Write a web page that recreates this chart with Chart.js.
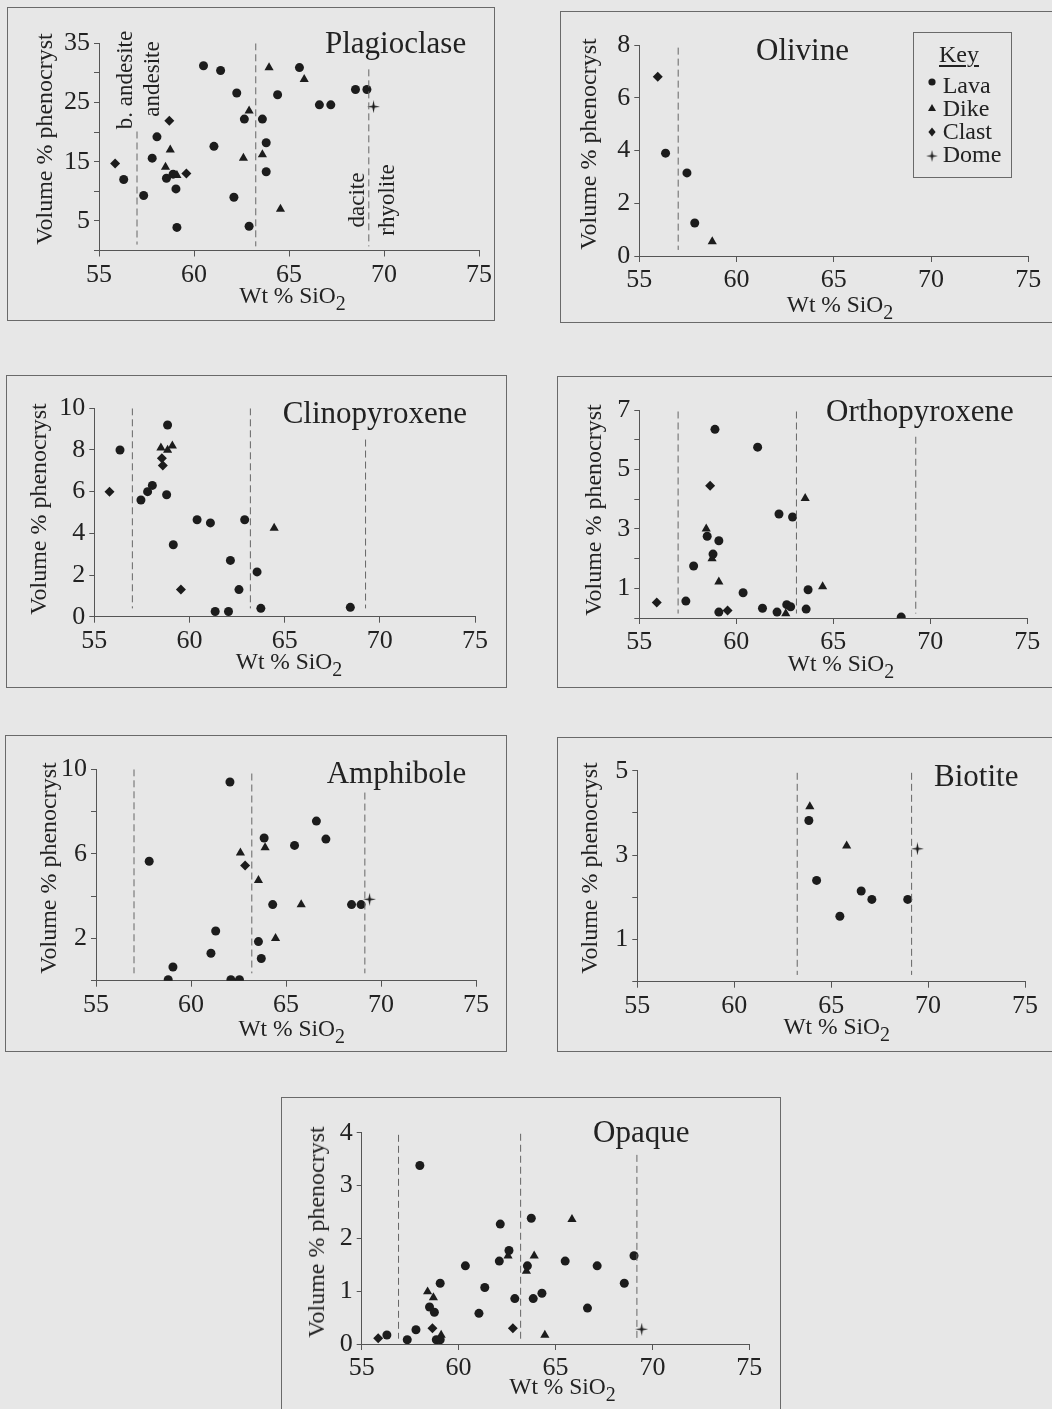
<!DOCTYPE html>
<html>
<head>
<meta charset="utf-8">
<script src="https://cdn.jsdelivr.net/npm/chart.js@4.4.1/dist/chart.umd.min.js"></script>
<style>
  body { margin: 0; width: 1052px; height: 1409px; background: #e7e7e7; position: relative; overflow: hidden;
         font-family: 'Liberation Serif', 'DejaVu Serif', serif; color: #222; }
  .box { position: absolute; border: 1px solid #6a6a6a; box-sizing: border-box; }
  canvas { position: absolute; }
  .txt { position: absolute; line-height: 1; white-space: nowrap; }
  .txt sub { font-size: 0.85em; vertical-align: -0.35em; line-height: 0; }
</style>
</head>
<body>
<script>
// shared x axis
const xTicks = [55, 60, 65, 70, 75];

// Plagioclase
const plagLava = [[56.3,12.0],[57.35,9.3],[57.8,15.6],[58.05,19.2],[58.55,12.2],[58.9,12.9],[59.05,10.4],[59.1,3.9],
  [60.5,31.2],[61.05,17.6],[61.4,30.4],[62.1,9.0],[62.25,26.6],[62.65,22.2],[62.9,4.1],[63.6,22.2],[63.8,18.2],
  [63.8,13.3],[64.4,26.3],[65.55,30.9],[66.6,24.6],[67.2,24.6],[68.5,27.2],[69.1,27.2]];
const plagDike = [[58.5,14.1],[58.75,17.0],[59.1,12.7],[62.6,15.6],[62.9,23.6],[63.6,16.2],[63.95,30.9],[64.55,7.0],[65.8,28.9]];
const plagClast = [[55.85,14.7],[58.7,21.9],[59.6,13.0]];
const plagDome = [[69.45,24.3]];
const plagYLabels = [5, 15, 25, 35];

// Olivine
const oliLava = [[56.35,3.9],[57.45,3.15],[57.85,1.25]];
const oliDike = [[58.75,0.55]];
const oliClast = [[55.95,6.8]];
const oliYLabels = [0, 2, 4, 6, 8];

// Clinopyroxene
const cpxLava = [[56.35,8.0],[57.45,5.6],[57.8,6.0],[58.05,6.3],[58.85,9.2],[58.8,5.85],[59.15,3.45],[60.4,4.65],
  [61.1,4.5],[62.9,4.65],[62.15,2.7],[63.55,2.15],[62.6,1.3],[61.35,0.25],[62.05,0.25],[63.75,0.4],[68.45,0.45]];
const cpxDike = [[58.5,8.1],[58.85,8.0],[59.1,8.2],[64.45,4.25]];
const cpxClast = [[55.8,6.0],[58.55,7.6],[58.6,7.25],[59.55,1.3]];
const cpxYLabels = [0, 2, 4, 6, 8, 10];

// Orthopyroxene
const opxLava = [[57.4,0.57],[57.8,1.75],[58.5,2.75],[58.8,2.15],[58.9,6.35],[59.1,2.6],[59.1,0.2],[60.35,0.85],
  [61.1,5.75],[61.35,0.33],[62.2,3.5],[62.9,3.4],[62.1,0.2],[62.6,0.45],[62.8,0.38],[63.6,0.3],[63.7,0.95],[68.5,0.03]];
const opxDike = [[58.45,3.0],[58.75,2.0],[59.1,1.22],[62.55,0.15],[63.55,4.03],[64.45,1.06]];
const opxClast = [[55.9,0.52],[58.65,4.45],[59.55,0.25]];
const opxYLabels = [1, 3, 5, 7];

// Amphibole
const amphLava = [[57.8,5.65],[58.8,0.05],[59.05,0.65],[61.05,1.3],[61.3,2.35],[62.05,9.4],[62.1,0.05],[62.55,0.05],
  [63.55,1.85],[63.7,1.05],[63.85,6.75],[64.3,3.6],[65.45,6.4],[66.6,7.55],[67.1,6.7],[68.45,3.6],[68.95,3.6]];
const amphDike = [[62.6,6.05],[63.55,4.75],[63.9,6.3],[64.45,2.0],[65.8,3.6]];
const amphClast = [[62.85,5.45]];
const amphDome = [[69.4,3.85]];
const amphYLabels = [2, 6, 10];

// Biotite
const bioLava = [[63.85,3.82],[64.25,2.4],[65.45,1.55],[66.55,2.15],[67.1,1.95],[68.95,1.95]];
const bioDike = [[63.9,4.15],[65.8,3.22]];
const bioDome = [[69.45,3.15]];
const bioYLabels = [1, 3, 5];

// Opaque
const opqLava = [[56.3,0.17],[57.35,0.08],[57.8,0.27],[58.0,3.38],[58.5,0.7],[58.75,0.6],[58.85,0.08],[59.05,0.08],
  [59.05,1.15],[60.35,1.48],[61.05,0.58],[61.35,1.07],[62.15,2.27],[62.1,1.57],[62.6,1.77],[62.9,0.86],[63.55,1.48],
  [63.75,2.38],[63.85,0.86],[64.3,0.96],[65.5,1.57],[66.65,0.68],[67.15,1.48],[68.55,1.15],[69.05,1.67]];
const opqDike = [[58.4,0.99],[58.7,0.88],[59.1,0.17],[62.55,1.67],[63.5,1.38],[63.9,1.67],[64.45,0.17],[65.85,2.36]];
const opqClast = [[55.85,0.11],[58.65,0.3],[62.8,0.3]];
const opqDome = [[69.45,0.28]];
const opqYLabels = [0, 1, 2, 3, 4];

// dashed rock-type boundaries: [SiO2, top, bottom]
const plagBounds = [[57, 20.1, 1], [63.25, 35, 0.7], [69.2, 30.6, 0.7]];
const oliBounds = [[57, 7.9, 0.23]];
const cpxBounds = [[57, 10, 0.4], [63.2, 10, 0.4], [69.25, 8.5, 0.4]];
const opxBounds = [[57, 6.95, 0.15], [63.1, 6.95, 0.15], [69.25, 6.1, 0.15]];
const amphBounds = [[57, 10, 0.35], [63.2, 9.8, 0.35], [69.15, 8.9, 0.35]];
const bioBounds = [[63.25, 4.95, 0.16], [69.15, 4.95, 0.16]];
const opqBounds = [[56.9, 3.96, 0.1], [63.2, 3.98, 0.1], [69.2, 3.58, 0.1]];

const ink = '#1c1c1c';
const axisColor = '#555';

function domeCanvas() {
  const c = document.createElement('canvas');
  c.width = 13; c.height = 13;
  const g = c.getContext('2d');
  g.fillStyle = ink;
  g.beginPath();
  g.moveTo(6.5, 0); g.lineTo(7.6, 5.4); g.lineTo(13, 6.5); g.lineTo(7.6, 7.6);
  g.lineTo(6.5, 13); g.lineTo(5.4, 7.6); g.lineTo(0, 6.5); g.lineTo(5.4, 5.4);
  g.closePath(); g.fill();
  return c;
}
const domeMarker = domeCanvas();

const groups = [
  { key: 'lava', style: 'circle', r: 4.5 },
  { key: 'dike', style: 'triangle', r: 5.3 },
  { key: 'clast', style: 'rectRot', r: 5 },
  { key: 'dome', style: domeMarker, r: 6 }
];

// box = panel frame, area = plot area (x 55..75, y 0..max), page pixels
const panels = [
  { box: [7, 7, 495, 321], area: [99, 43.3, 479, 250.5], yMax: 35, yStep: 5, yLabels: plagYLabels,
    lava: plagLava, dike: plagDike, clast: plagClast, dome: plagDome, bounds: plagBounds },
  { box: [560, 11, 1070, 323], area: [639.3, 45, 1028.3, 256], yMax: 8, yStep: 2, yLabels: oliYLabels,
    lava: oliLava, dike: oliDike, clast: oliClast, bounds: oliBounds },
  { box: [6, 375, 507, 688], area: [94.3, 408.3, 475, 616.7], yMax: 10, yStep: 2, yLabels: cpxYLabels,
    lava: cpxLava, dike: cpxDike, clast: cpxClast, bounds: cpxBounds },
  { box: [557, 376, 1070, 688], area: [639.3, 410, 1027.3, 618], yMax: 7, yStep: 1, yLabels: opxYLabels,
    lava: opxLava, dike: opxDike, clast: opxClast, bounds: opxBounds },
  { box: [5, 735, 507, 1052], area: [96, 769.3, 476, 980.7], yMax: 10, yStep: 2, yLabels: amphYLabels,
    lava: amphLava, dike: amphDike, clast: amphClast, dome: amphDome, bounds: amphBounds },
  { box: [557, 737, 1070, 1052], area: [637.3, 770.7, 1025, 981.7], yMax: 5, yStep: 1, yLabels: bioYLabels,
    lava: bioLava, dike: bioDike, dome: bioDome, bounds: bioBounds },
  { box: [281, 1097, 781, 1420], area: [361.7, 1132.7, 749.3, 1344], yMax: 4, yStep: 1, yLabels: opqYLabels,
    lava: opqLava, dike: opqDike, clast: opqClast, dome: opqDome, bounds: opqBounds }
];

const tickFont = { family: "'Liberation Serif', serif", size: 26 };

function drawPanel(p) {
  const [x0, y0, x1, y1] = p.box;
  const w = x1 - x0, h = y1 - y0;

  const frame = document.createElement('div');
  frame.className = 'box';
  frame.style.cssText = `left:${x0}px;top:${y0}px;width:${w}px;height:${h}px`;
  document.body.appendChild(frame);

  const canvas = document.createElement('canvas');
  canvas.width = w; canvas.height = h;
  canvas.style.cssText = `left:${x0}px;top:${y0}px;width:${w}px;height:${h}px`;
  document.body.appendChild(canvas);

  const datasets = p.bounds.map(b => ({
    type: 'line', showLine: true,
    data: [{ x: b[0], y: b[1] }, { x: b[0], y: b[2] }],
    borderColor: '#666', borderWidth: 1, borderDash: [7, 4], pointRadius: 0, fill: false
  }));
  groups.forEach(g => {
    if (!p[g.key]) return;
    datasets.push({
      data: p[g.key].map(([x, y]) => ({ x, y })),
      pointStyle: g.style, pointRadius: g.r,
      pointBackgroundColor: ink, pointBorderColor: ink, pointBorderWidth: 0
    });
  });

  new Chart(canvas, {
    type: 'scatter',
    data: { datasets },
    options: {
      responsive: false,
      animation: false,
      layout: { padding: { left: 0, top: p.area[1] - y0, right: x1 - p.area[2], bottom: 0 } },
      plugins: { legend: { display: false }, tooltip: { enabled: false } },
      scales: {
        x: {
          type: 'linear', min: 55, max: 75,
          afterBuildTicks: s => { s.ticks = xTicks.map(v => ({ value: v })); },
          ticks: { font: tickFont, color: '#222', padding: 3, maxRotation: 0, autoSkip: false },
          grid: { drawOnChartArea: false, tickLength: 6, color: axisColor },
          border: { color: axisColor },
          afterFit: s => { s.height = y1 - p.area[3]; }
        },
        y: {
          min: 0, max: p.yMax,
          ticks: { stepSize: p.yStep, font: tickFont, color: '#222', padding: 4, autoSkip: false,
                   callback: v => p.yLabels.includes(v) ? v : '' },
          grid: { drawOnChartArea: false, tickLength: 5, color: axisColor },
          border: { color: axisColor },
          afterFit: s => { s.width = p.area[0] - x0; }
        }
      }
    }
  });
}

function addText(html, x, y, size, anchor) {
  const d = document.createElement('div');
  d.className = 'txt';
  d.innerHTML = html;
  d.style.fontSize = size + 'px';
  d.style.left = x + 'px';
  if (anchor === 'rot') {
    d.style.top = y + 'px';
    d.style.transform = 'translate(-50%,-50%) rotate(-90deg)';
  } else {
    d.style.top = (y - 0.8375 * size) + 'px';
    if (anchor === 'center') d.style.transform = 'translateX(-50%)';
  }
  document.body.appendChild(d);
  return d;
}

panels.forEach(drawPanel);

// panel titles (left, baseline)
addText('Plagioclase', 325, 53.3, 31);
addText('Olivine', 756, 60, 31);
addText('Clinopyroxene', 282.7, 423.3, 31);
addText('Orthopyroxene', 826, 421, 31);
addText('Amphibole', 326.7, 783, 31);
addText('Biotite', 934, 786, 31);
addText('Opaque', 593, 1141.7, 31);

// axis titles
const yTitleAt = [[44, 139], [587.5, 144], [37.5, 509], [592.5, 510], [47.5, 868], [589, 868], [315.8, 1232]];
const xTitleAt = [[292.5, 303.5], [840, 312.5], [289, 670], [841, 671.7], [291.7, 1036.7], [836.7, 1035], [562.5, 1395]];
yTitleAt.forEach(([x, y]) => addText('Volume % phenocryst', x, y, 24, 'rot'));
xTitleAt.forEach(([x, y]) => addText('Wt % SiO<sub>2</sub>', x, y, 23.5, 'center'));

// rock names in Plagioclase panel
addText('b. andesite', 124, 80, 23, 'rot');
addText('andesite', 151, 78.5, 23, 'rot');
addText('dacite', 355.5, 200, 23, 'rot');
addText('rhyolite', 386, 199.5, 23, 'rot');

// key
const key = document.createElement('div');
key.className = 'box';
key.style.cssText = 'left:913px;top:32px;width:99px;height:146px';
document.body.appendChild(key);
const keyTitle = addText('Key', 939, 61.7, 24);
keyTitle.style.textDecoration = 'underline';
keyTitle.style.textDecorationThickness = '2px';
keyTitle.style.textUnderlineOffset = '3px';

const keyItems = [['Lava', 'lava', 93.3, 82.3], ['Dike', 'dike', 115.7, 107.7], ['Clast', 'clast', 139, 132.3], ['Dome', 'dome', 161.7, 155.7]];
keyItems.forEach(([name, kind, base, cy]) => {
  addText(name, 942.7, base, 24);
  const c = document.createElement('canvas');
  c.width = 12; c.height = 12;
  c.style.cssText = `left:${931.7 - 6}px;top:${cy - 6}px;width:12px;height:12px`;
  const g = c.getContext('2d');
  g.fillStyle = ink;
  g.beginPath();
  if (kind === 'lava') g.arc(6, 6, 3.6, 0, Math.PI * 2);
  if (kind === 'dike') { g.moveTo(6, 2); g.lineTo(10, 9); g.lineTo(2, 9); g.closePath(); }
  if (kind === 'clast') { g.moveTo(6, 1.5); g.lineTo(9.6, 6); g.lineTo(6, 10.5); g.lineTo(2.4, 6); g.closePath(); }
  g.fill();
  if (kind === 'dome') g.drawImage(domeMarker, 0, 0, 12, 12);
  document.body.appendChild(c);
});
</script>
</body>
</html>
